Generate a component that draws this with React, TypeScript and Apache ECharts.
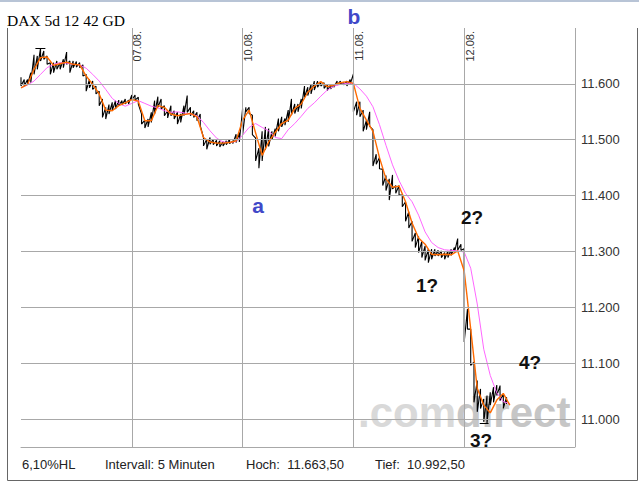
import React, { useEffect, useRef } from 'react';
import * as echarts from 'echarts';

// ---- data ----
const dayLabels = ['07.08.', '10.08.', '11.08.', '12.08.'];
const periodHigh = 11663.5;
const periodLow = 10992.5;
const highMarkX = [0.13, 0.22];
const lowMarkX = [4.14, 4.22];
const yGridValues = [11000, 11100, 11200, 11300, 11400, 11500, 11600];
const xGridValues = [1, 2, 3, 4, 5];

// 15-minute high/low samples (34 per day)
const day1High = [11612, 11608, 11608, 11620, 11652, 11650, 11664, 11659, 11650, 11638, 11638, 11641, 11638, 11644, 11657, 11641, 11641, 11640, 11638, 11634, 11617, 11608, 11605, 11596, 11587, 11573, 11558, 11563, 11567, 11570, 11571, 11570, 11573, 11571];
const day1Low = [11596, 11596, 11598, 11602, 11617, 11626, 11641, 11644, 11635, 11617, 11620, 11626, 11626, 11629, 11635, 11620, 11629, 11630, 11629, 11614, 11587, 11593, 11590, 11582, 11561, 11540, 11537, 11546, 11552, 11555, 11561, 11562, 11564, 11564];
const day2High = [11580, 11580, 11576, 11546, 11535, 11537, 11549, 11570, 11577, 11573, 11561, 11552, 11561, 11552, 11549, 11546, 11561, 11579, 11558, 11552, 11549, 11546, 11504, 11501, 11504, 11501, 11499, 11498, 11497, 11498, 11501, 11498, 11510, 11513];
const day2Low = [11571, 11571, 11564, 11528, 11521, 11523, 11531, 11546, 11558, 11555, 11543, 11539, 11543, 11537, 11528, 11531, 11543, 11549, 11543, 11540, 11534, 11525, 11489, 11483, 11492, 11491, 11489, 11487, 11489, 11491, 11493, 11493, 11495, 11496];
const day3High = [11556, 11558, 11558, 11544, 11503, 11485, 11515, 11523, 11520, 11515, 11520, 11538, 11541, 11538, 11553, 11573, 11564, 11564, 11573, 11596, 11594, 11599, 11605, 11605, 11603, 11602, 11599, 11598, 11599, 11605, 11605, 11603, 11605, 11608];
const day3Low = [11509, 11550, 11547, 11509, 11462, 11449, 11462, 11482, 11488, 11500, 11506, 11515, 11523, 11526, 11532, 11544, 11547, 11550, 11556, 11576, 11579, 11582, 11589, 11594, 11596, 11592, 11588, 11591, 11594, 11598, 11599, 11598, 11596, 11599];
const day4High = [11618, 11568, 11568, 11553, 11535, 11550, 11518, 11474, 11468, 11447, 11436, 11430, 11437, 11418, 11418, 11401, 11389, 11371, 11354, 11333, 11327, 11318, 11310, 11304, 11304, 11304, 11302, 11301, 11298, 11301, 11304, 11307, 11323, 11313];
const day4Low = [11550, 11544, 11541, 11515, 11518, 11524, 11453, 11456, 11448, 11418, 11409, 11392, 11412, 11404, 11401, 11380, 11354, 11342, 11318, 11307, 11298, 11289, 11284, 11280, 11286, 11292, 11292, 11289, 11286, 11289, 11293, 11298, 11302, 11302];
const day5High = [11305, 11197, 11161, 11102, 11069, 11054, 11036, 11042, 11048, 11057, 11061, 11060, 11045, 11039];
const day5Low = [11138, 11161, 11096, 11030, 11013, 11019, 10995, 10993, 11025, 11030, 11042, 11033, 11019, 11027];

// 30-minute samples of the moving averages (17 per day)
const ma12Day1 = [11593, 11599, 11626, 11647, 11648, 11633, 11636, 11639, 11635, 11634, 11614, 11599, 11582, 11553, 11552, 11561, 11566];
const ma12Day2 = [11572, 11569, 11534, 11534, 11561, 11558, 11546, 11543, 11545, 11547, 11541, 11504, 11496, 11494, 11494, 11495, 11498];
const ma12Day3 = [11535, 11553, 11512, 11472, 11496, 11513, 11529, 11535, 11556, 11564, 11585, 11596, 11604, 11595, 11598, 11602, 11604];
const ma12Day4 = [11601, 11556, 11535, 11515, 11468, 11430, 11415, 11417, 11389, 11351, 11324, 11313, 11295, 11294, 11295, 11294, 11301];
const ma12Day5 = [11265, 11161, 11055, 11025, 11011, 11034, 11046, 11025];

const ma42Day1 = [11593, 11598, 11605, 11617, 11629, 11635, 11638, 11637, 11635, 11634, 11628, 11617, 11605, 11590, 11574, 11565, 11560];
const ma42Day2 = [11565, 11570, 11565, 11560, 11557, 11552, 11549, 11550, 11548, 11546, 11543, 11531, 11516, 11503, 11496, 11495, 11497];
const ma42Day3 = [11508, 11522, 11529, 11522, 11516, 11504, 11502, 11518, 11529, 11542, 11556, 11566, 11578, 11589, 11596, 11599, 11601];
const ma42Day4 = [11601, 11591, 11578, 11559, 11527, 11490, 11455, 11427, 11404, 11389, 11365, 11335, 11316, 11307, 11303, 11302, 11301];
const ma42Day5 = [11299, 11270, 11206, 11125, 11078, 11047, 11031, 11028];

// ---- helpers ----
function fmtDe(v: number, dec: number) {
  const fixed = v.toFixed(dec);
  const [intPart, frac] = fixed.split('.');
  const withDots = intPart.replace(/\B(?=(\d{3})+(?!\d))/g, '.');
  return frac ? withDots + ',' + frac : withDots;
}

const highs = [day1High, day2High, day3High, day4High, day5High];
const lows = [day1Low, day2Low, day3Low, day4Low, day5Low];
const priceData: number[][] = [];
highs.forEach((hi, d) => {
  hi.forEach((h, i) => {
    const x = d + i / 34;
    priceData.push([x, h], [x, lows[d][i]]);
  });
});

function maSeries(days: number[][]) {
  const out: number[][] = [];
  days.forEach((arr, d) => arr.forEach((v, i) => out.push([d + i / 17, v])));
  return out;
}
const ma12Data = maSeries([ma12Day1, ma12Day2, ma12Day3, ma12Day4, ma12Day5]);
const ma42Data = maSeries([ma42Day1, ma42Day2, ma42Day3, ma42Day4, ma42Day5]);

const gridColor = '#a8a8a8';
const sans = '"Liberation Sans", Arial, sans-serif';

export default function App() {
  const ref = useRef<HTMLDivElement>(null);
  useEffect(() => {
    const chart = echarts.init(ref.current!, null, { renderer: 'svg', width: 639, height: 484 });
    const option: any = {
      animation: false,
      backgroundColor: '#fff',
      grid: { left: 21, right: 64, top: 28, bottom: 37, containLabel: false, outerBoundsMode: 'none' },
      xAxis: {
        type: 'value', min: 0, max: 5, interval: 1,
        axisLine: { show: true, onZero: false, lineStyle: { color: gridColor, width: 1 } },
        axisTick: { show: false }, axisLabel: { show: false }, splitLine: { show: false },
      },
      yAxis: {
        type: 'value', position: 'right', min: 10950, max: 11700, interval: 50,
        axisLine: { show: false }, axisTick: { show: false }, splitLine: { show: false },
        axisLabel: {
          margin: 6, fontSize: 13, color: '#333', fontFamily: sans,
          formatter: (v: number) => (v % 100 === 0 && v >= 11000 && v <= 11600 ? fmtDe(v, 0) : ''),
        },
      },
      series: [
        {
          type: 'line', data: [[0, 10950]], symbol: 'none', silent: true, z: 0,
          lineStyle: { width: 0 },
          markLine: {
            silent: true, symbol: ['none', 'none'], label: { show: false },
            lineStyle: { color: gridColor, type: 'solid', width: 1 },
            emphasis: { disabled: true },
            data: [...yGridValues.map((v) => ({ yAxis: v })), ...xGridValues.map((v) => ({ xAxis: v }))],
          },
        },
        {
          type: 'line', data: priceData, symbol: 'none', showSymbol: false, z: 2,
          lineStyle: { color: '#000', width: 1.1 },
          markLine: {
            silent: true, symbol: ['none', 'none'], label: { show: false },
            lineStyle: { color: '#000', type: 'solid', width: 1 },
            data: [
              [{ coord: [highMarkX[0], periodHigh] }, { coord: [highMarkX[1], periodHigh] }],
              [{ coord: [lowMarkX[0], periodLow] }, { coord: [lowMarkX[1], periodLow] }],
            ],
          },
        },
        {
          type: 'line', data: ma42Data, symbol: 'none', showSymbol: false, z: 3,
          lineStyle: { color: '#ff66ff', width: 1 },
        },
        {
          type: 'line', data: ma12Data, symbol: 'none', showSymbol: false, z: 4,
          lineStyle: { color: '#ff6a00', width: 1.4 },
        },
      ],
    };
    chart.setOption(option);

    const dateTexts = dayLabels.map((t, k) => {
      const p = chart.convertToPixel({ gridIndex: 0 }, [k + 1, 11700]) as number[];
      return {
        type: 'text', x: p[0], y: 31, rotation: Math.PI / 2, z: 5,
        style: { text: t, fontSize: 11, fontFamily: sans, fill: '#333', align: 'right', verticalAlign: 'top' },
      };
    });
    const ann = (text: string, x: number, y: number, color: string, size: number) => ({
      type: 'text', x, y, z: 10,
      style: { text, fontSize: size, fontWeight: 'bold', fontFamily: sans, fill: color, align: 'center', verticalAlign: 'middle' },
    });
    const blue = '#4048c8';
    const footer = (text: string, x: number) => ({
      type: 'text', x, y: 464, z: 5,
      style: { text, fontSize: 13, fontFamily: sans, fill: '#222', align: 'left', verticalAlign: 'middle' },
    });
    const graphics: any[] = [
      { type: 'rect', shape: { x: 0, y: 0, width: 639, height: 2 }, style: { fill: '#b8c4d6' }, z: 5 },
      {
        type: 'polyline', z: 5,
        shape: { points: [[7.5, 28], [7.5, 480.5], [637.5, 480.5], [637.5, 28]] },
        style: { stroke: '#666', fill: 'none', lineWidth: 1 },
      },
      {
        type: 'text', x: 7, y: 20, z: 5,
        style: { text: 'DAX 5d 12 42 GD', fontSize: 15.5, fontFamily: '"Liberation Serif", "Times New Roman", serif', fill: '#000', align: 'left', verticalAlign: 'middle' },
      },
      {
        type: 'text', x: 358, y: 412, z: 1,
        style: {
          text: '{a|.com}{b|direct}', fontSize: 42, fontWeight: 'bold', fontFamily: sans, align: 'left', verticalAlign: 'middle',
          rich: {
            a: { fontSize: 42, fontWeight: 'bold', fontFamily: sans, fill: '#d9d9d9' },
            b: { fontSize: 42, fontWeight: 'bold', fontFamily: sans, fill: '#c6c6c6' },
          },
        },
      },
      ann('b', 354, 16, blue, 21),
      ann('a', 258, 205, blue, 21),
      ann('1?', 427, 285, '#111', 19),
      ann('2?', 472, 217, '#111', 19),
      ann('3?', 481, 440, '#111', 19),
      ann('4?', 530, 362, '#111', 19),
      footer(fmtDe(((periodHigh - periodLow) / periodLow) * 100, 2) + '%HL', 22),
      footer('Intervall: 5 Minuten', 105),
      footer('Hoch:  ' + fmtDe(periodHigh, 2), 246),
      footer('Tief:  ' + fmtDe(periodLow, 2), 375),
      ...dateTexts,
    ];
    chart.setOption({ graphic: graphics });
    return () => chart.dispose();
  }, []);
  return <div ref={ref} style={{ position: 'fixed', left: 0, top: 0, width: 639, height: 484, background: '#fff' }} />;
}
